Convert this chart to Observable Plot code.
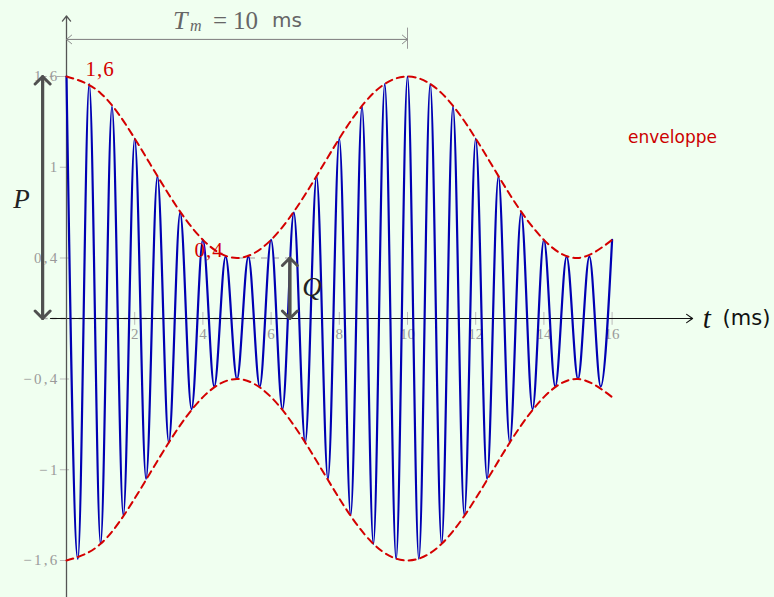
<!DOCTYPE html>
<html>
<head>
<meta charset="utf-8">
<script src="https://cdn.jsdelivr.net/npm/d3@7"></script>
<script src="https://cdn.jsdelivr.net/npm/@observablehq/plot@0.6"></script>
<style>
  html, body { margin: 0; padding: 0; background: #f0fff0; }
  #chart svg { display: block; }
</style>
</head>
<body>
<div id="chart"></div>
<script>
// Amplitude-modulated signal: carrier extrema every 1/3 ms (1,5 kHz carrier)
const carrierStepMs = 1 / 3;
const signalExtrema = [
  1.60, -1.59, 1.55, -1.49, 1.40, -1.30, 1.19, -1.06, 0.94, -0.82,
  0.70, -0.60, 0.52, -0.45, 0.41, -0.40, 0.41, -0.45, 0.52, -0.60,
  0.70, -0.82, 0.94, -1.06, 1.19, -1.30, 1.40, -1.49, 1.55, -1.59,
  1.60, -1.59, 1.55, -1.49, 1.40, -1.30, 1.19, -1.06, 0.94, -0.82,
  0.70, -0.60, 0.52, -0.45, 0.41, -0.40, 0.41, -0.45, 0.52
];

// Envelope (upper branch), one reading per millisecond
const envelopeTimes = [0, 1, 2, 3, 4, 5, 6, 7, 8, 9, 10, 11, 12, 13, 14, 15, 16];
const envelopeUpper = [1.60, 1.49, 1.19, 0.82, 0.52, 0.40, 0.52, 0.82, 1.19, 1.49, 1.60, 1.49, 1.19, 0.82, 0.52, 0.40, 0.52];

// Axis ticks
const xTicks = [2, 4, 6, 8, 10, 12, 14, 16];
const xTickLabels = ["2", "4", "6", "8", "10", "12", "14", "16"];
const yTicks = [-1.6, -1, -0.4, 0.4, 1, 1.6];
const yTickLabels = ["\u22121,6", "\u22121", "\u22120,4", "0,4", "1", "1,6"];

// Annotations
const envelopeMax = 1.6;
const envelopeMin = 0.4;
const modulationPeriod = 10;
const extremeValues = [1.6, 0.4];
const extremeLabels = ["1,6", "0,4"];

const signal = signalExtrema.map((v, i) => ({t: i * carrierStepMs, v}));
const envelope = envelopeTimes.map((t, i) => ({t, up: envelopeUpper[i], down: -envelopeUpper[i]}));

const seg = (x1, y1, x2, y2) => [{x1, y1, x2, y2}];
const segOpts = {x1: "x1", y1: "y1", x2: "x2", y2: "y2"};

const SERIF = "Liberation Serif, DejaVu Serif, serif";
const SANS = "DejaVu Sans, sans-serif";
const pX = -0.7;   // position of the P double arrow
const qX = 6.55;   // position of the Q double arrow
const GREY_TEXT = "#666";
const TICK_TEXT = "#9a9a9a";
const RED = "#d40000";

const chart = Plot.plot({
  width: 774,
  height: 597,
  margin: 0,
  style: {background: "#f0fff0", overflow: "visible"},
  x: {type: "linear", domain: [0, 10], range: [66, 407], axis: null},
  y: {type: "linear", domain: [0, 1.6], range: [318, 76], axis: null},
  marks: [
    // helper lines
    Plot.link(seg(pX, envelopeMax, 0, envelopeMax), {...segOpts, stroke: "#aaa", strokeWidth: 1.2, strokeDasharray: "4,3"}),
    Plot.link(seg(pX, 0, qX, 0), {...segOpts, stroke: "#aaa", strokeWidth: 1.5, strokeDasharray: "5,4"}),
    Plot.link(seg(5, envelopeMin, qX, envelopeMin), {...segOpts, stroke: "#bbb", strokeWidth: 1.5, strokeDasharray: "6,6"}),

    // ticks
    Plot.ruleX(xTicks, {x: d => d, y1: () => -0.045, y2: () => 0.04, stroke: "#bbb", strokeWidth: 1}),
    Plot.ruleY(yTicks, {y: d => d, x1: () => -0.18, x2: () => 0.09, stroke: "#bbb", strokeWidth: 1}),
    Plot.text(xTicks, {x: d => d, y: () => 0, text: (d, i) => xTickLabels[i], dy: 16, fill: TICK_TEXT,
      fontSize: 15, fontFamily: SERIF}),
    Plot.text(yTicks, {x: () => -0.2, y: d => d, text: (d, i) => yTickLabels[i], textAnchor: "end", fill: TICK_TEXT,
      fontSize: 15, fontFamily: SERIF}),

    // axes
    Plot.arrow(seg(-0.47, 0, 18.36, 0), {...segOpts, stroke: "#111", strokeWidth: 1.2, headLength: 9, headAngle: 70}),
    Plot.arrow(seg(0, -1.9, 0, 2.0), {...segOpts, stroke: "#555", strokeWidth: 1.3, headLength: 7.5, headAngle: 78}),

    // signal and envelope
    Plot.line(signal, {x: "t", y: "v", curve: "monotone-x", stroke: "#0000b3", strokeWidth: 2.2}),
    Plot.line(envelope, {x: "t", y: "up", curve: "natural", stroke: RED, strokeWidth: 2, strokeDasharray: "7,5"}),
    Plot.line(envelope, {x: "t", y: "down", curve: "natural", stroke: RED, strokeWidth: 2, strokeDasharray: "7,5"}),

    // modulation period
    Plot.ruleX([modulationPeriod], {y1: () => 1.78, y2: () => 1.92, stroke: "#999", strokeWidth: 1}),
    Plot.arrow(seg(0, 1.845, modulationPeriod, 1.845), {...segOpts, stroke: "#888", strokeWidth: 1, headLength: 10, headAngle: 80}),
    Plot.arrow(seg(modulationPeriod, 1.845, 0, 1.845), {...segOpts, stroke: "#888", strokeWidth: 1, headLength: 10, headAngle: 80}),
    Plot.text(["T"], {x: () => modulationPeriod / 2, y: () => 1.97, text: d => d, textAnchor: "start", dx: -64,
      fill: GREY_TEXT, fontSize: 26, fontStyle: "italic", fontFamily: SERIF}),
    Plot.text(["m"], {x: () => modulationPeriod / 2, y: () => 1.935, text: d => d, textAnchor: "start", dx: -47,
      fill: GREY_TEXT, fontSize: 16, fontStyle: "italic", fontFamily: SERIF}),
    Plot.text(["="], {x: () => modulationPeriod / 2, y: () => 1.97, text: d => d, textAnchor: "start", dx: -24,
      fill: GREY_TEXT, fontSize: 25, fontFamily: SERIF}),
    Plot.text([String(modulationPeriod)], {x: () => modulationPeriod / 2, y: () => 1.97, text: d => d, textAnchor: "start", dx: -4,
      fill: GREY_TEXT, fontSize: 25, fontFamily: SERIF}),
    Plot.text(["ms"], {x: () => modulationPeriod / 2, y: () => 1.97, text: d => d, textAnchor: "start", dx: 35,
      fill: GREY_TEXT, fontSize: 20, fontFamily: SANS}),

    // P and Q double arrows
    Plot.arrow(seg(pX, 0, pX, envelopeMax), {...segOpts, stroke: "#505050", strokeWidth: 3, headLength: 5.3, headAngle: 90}),
    Plot.arrow(seg(pX, envelopeMax, pX, 0), {...segOpts, stroke: "#505050", strokeWidth: 3, headLength: 5.3, headAngle: 90}),
    Plot.arrow(seg(qX, 0, qX, envelopeMin), {...segOpts, stroke: "#505050", strokeWidth: 3, headLength: 5.3, headAngle: 90}),
    Plot.arrow(seg(qX, envelopeMin, qX, 0), {...segOpts, stroke: "#505050", strokeWidth: 3, headLength: 5.3, headAngle: 90}),
    Plot.text(["P"], {x: () => -1.32, y: () => 0.787, text: d => d, fill: "#222", fontSize: 27, fontStyle: "italic", fontFamily: SERIF}),
    Plot.text(["Q"], {x: () => 7.2, y: () => 0.205, text: d => d, fill: "#222", fontSize: 27, fontStyle: "italic", fontFamily: SERIF}),

    // labels of the envelope extremes
    Plot.text(extremeValues, {x: (d, i) => [0.56, 3.75][i], y: d => d + 0.05, text: (d, i) => extremeLabels[i],
      textAnchor: "start", fill: RED, fontSize: 21, fontFamily: SERIF}),
    Plot.text(["enveloppe"], {x: () => 17.77, y: () => 1.197, text: d => d, fill: "#cc0000", fontSize: 17, fontFamily: SANS}),
    Plot.text(["t"], {x: () => 18.66, y: () => 0, text: d => d, textAnchor: "start", fill: "#111",
      fontSize: 29, fontStyle: "italic", fontFamily: SERIF}),
    Plot.text(["(ms)"], {x: () => 19.24, y: () => 0, text: d => d, textAnchor: "start", fill: "#111",
      fontSize: 21, fontFamily: SANS})
  ]
});

// math-style spacing for the numeric labels (wider spacing around comma and minus)
d3.select(chart).selectAll("g[aria-label=text]").each(function () {
  const g = d3.select(this);
  const fill = g.attr("fill");
  const texts = g.selectAll("text");
  const content = texts.nodes().map(n => n.textContent);
  if (fill === TICK_TEXT && content.some(s => yTickLabels.includes(s) && s.includes(","))) {
    texts.attr("letter-spacing", "2.3px");
  } else if (fill === RED) {
    texts.attr("letter-spacing", "1px");
  }
});

document.getElementById("chart").appendChild(chart);
</script>
</body>
</html>
